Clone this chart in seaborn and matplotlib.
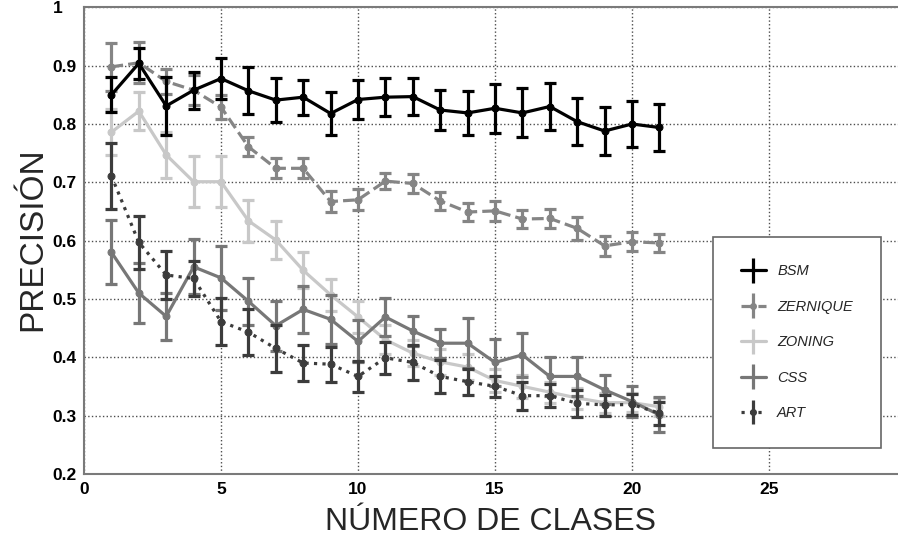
import numpy as np
import pandas as pd
import matplotlib
matplotlib.use('Agg')
import matplotlib.pyplot as plt
import seaborn as sns
from matplotlib.container import ErrorbarContainer
from matplotlib.legend_handler import HandlerErrorbar

# number of classes
clases = list(range(1, 22))

# mean precision per method
bsm = [0.850, 0.904, 0.831, 0.858, 0.878, 0.857, 0.841, 0.846, 0.818, 0.842, 0.846,
       0.847, 0.824, 0.819, 0.827, 0.819, 0.830, 0.804, 0.788, 0.800, 0.794]
zernique = [0.898, 0.905, 0.873, 0.858, 0.829, 0.761, 0.724, 0.724, 0.667, 0.670, 0.702,
            0.698, 0.668, 0.649, 0.651, 0.637, 0.638, 0.621, 0.591, 0.598, 0.596]
zoning = [0.786, 0.822, 0.747, 0.701, 0.701, 0.634, 0.601, 0.549, 0.507, 0.469, 0.430,
          0.407, 0.392, 0.383, 0.360, 0.350, 0.340, 0.330, 0.322, 0.322, 0.315]
css = [0.580, 0.510, 0.470, 0.555, 0.536, 0.496, 0.454, 0.482, 0.465, 0.427, 0.469,
       0.445, 0.424, 0.424, 0.391, 0.404, 0.367, 0.367, 0.344, 0.324, 0.301]
art = [0.711, 0.597, 0.541, 0.535, 0.461, 0.443, 0.415, 0.390, 0.388, 0.367, 0.399,
       0.391, 0.367, 0.358, 0.350, 0.334, 0.334, 0.321, 0.318, 0.319, 0.304]

# half-width of the error bars
bsm_err = [0.030, 0.027, 0.050, 0.032, 0.035, 0.040, 0.038, 0.030, 0.037, 0.033, 0.033,
           0.032, 0.034, 0.038, 0.042, 0.042, 0.040, 0.040, 0.041, 0.040, 0.041]
zernique_err = [0.041, 0.035, 0.022, 0.026, 0.020, 0.016, 0.017, 0.017, 0.018, 0.018, 0.014,
                0.016, 0.015, 0.016, 0.017, 0.016, 0.016, 0.020, 0.017, 0.016, 0.016]
zoning_err = [0.040, 0.033, 0.040, 0.044, 0.044, 0.036, 0.033, 0.031, 0.027, 0.027, 0.025,
              0.022, 0.022, 0.022, 0.020, 0.020, 0.018, 0.018, 0.017, 0.016, 0.015]
css_err = [0.055, 0.052, 0.040, 0.047, 0.055, 0.040, 0.043, 0.040, 0.042, 0.036, 0.033,
           0.026, 0.025, 0.043, 0.040, 0.038, 0.034, 0.034, 0.025, 0.026, 0.030]
art_err = [0.056, 0.046, 0.042, 0.030, 0.040, 0.040, 0.040, 0.031, 0.030, 0.027, 0.027,
           0.030, 0.029, 0.022, 0.018, 0.024, 0.020, 0.023, 0.018, 0.018, 0.020]

metodos = ['BSM', 'ZERNIQUE', 'ZONING', 'CSS', 'ART']
medias = [bsm, zernique, zoning, css, art]
errores = [bsm_err, zernique_err, zoning_err, css_err, art_err]
colores = ['#000000', '#858585', '#c8c8c8', '#777777', '#3c3c3c']
estilos = ['-', '--', '-', '-', ':']

# long table: two rows per point (mean - err, mean + err) so the
# min-max interval reproduces the published error bars
filas = []
for m, med, err in zip(metodos, medias, errores):
    for x, v, e in zip(clases, med, err):
        filas.append({'metodo': m, 'clases': x, 'precision': v - e})
        filas.append({'metodo': m, 'clases': x, 'precision': v + e})
df = pd.DataFrame(filas)

sns.set_style('white')
plt.rcParams['font.family'] = ['Liberation Sans', 'DejaVu Sans']

fig = plt.figure(figsize=(8.98, 5.37), dpi=100)
ax = fig.add_axes([84 / 898, (537 - 473.8) / 537, 822 / 898, 466.4 / 537])

orden = ['ZONING', 'CSS', 'ART', 'ZERNIQUE', 'BSM']
for m in orden:
    i = metodos.index(m)
    sns.lineplot(data=df[df['metodo'] == m], x='clases', y='precision', ax=ax,
                 color=colores[i], linestyle=estilos[i], linewidth=2.3,
                 marker='o', markersize=5, markeredgecolor=colores[i],
                 errorbar=('pi', 100), err_style='bars',
                 err_kws=dict(capsize=4.5, elinewidth=2.3, capthick=2.3),
                 legend=False)

# proxy errorbars for the legend
handles = []
for m, c, ls in zip(metodos, colores, estilos):
    h = ax.errorbar([], [], yerr=[], color=c, linestyle=ls, linewidth=2.3,
                    marker='o' if m in ('ZERNIQUE', 'ART') else None, markersize=4,
                    capsize=4.5, elinewidth=2.3, capthick=2.3, label=m)
    handles.append(h)

ax.set_xlim(0, 30)
ax.set_ylim(0.2, 1.0)
ax.set_xticks([0, 5, 10, 15, 20, 25])
ax.set_yticks([0.2, 0.3, 0.4, 0.5, 0.6, 0.7, 0.8, 0.9, 1.0])
ax.set_yticklabels(['0.2', '0.3', '0.4', '0.5', '0.6', '0.7', '0.8', '0.9', '1'])
ax.grid(True, linestyle=':', color='#4d4d4d', linewidth=1.0)
ax.tick_params(axis='both', direction='in', length=4, color='#777777',
               labelsize=12.5, labelcolor='black')
ax.tick_params(axis='y', pad=22.5)
ax.tick_params(axis='x', pad=6)
for lbl in ax.get_xticklabels() + ax.get_yticklabels():
    lbl.set_fontweight('bold')
for lbl in ax.get_yticklabels():
    lbl.set_ha('left')

for s in ax.spines.values():
    s.set_color('#7a7a7a')
    s.set_linewidth(1.5)

ax.set_xlabel('NÚMERO DE CLASES', fontsize=23)
ax.xaxis.label.set_va('baseline')
ax.xaxis.set_label_coords(0.495, -0.121)
ax.set_ylabel('PRECISIÓN', fontsize=24)
ax.yaxis.label.set_va('baseline')
ax.yaxis.set_label_coords(-0.052, 0.502)

leg = ax.legend(handles=handles, labels=metodos, loc='upper left',
                bbox_to_anchor=(713 / 898, 1 - 236.7 / 537), bbox_transform=fig.transFigure,
                prop={'style': 'italic', 'size': 10.5}, frameon=True, fancybox=False,
                framealpha=1, edgecolor='#666666', borderpad=1.9, labelspacing=1.47,
                handlelength=1.7, handletextpad=0.8, borderaxespad=0,
                handler_map={ErrorbarContainer: HandlerErrorbar(yerr_size=0.85)})
leg.get_frame().set_linewidth(1.2)

fig.savefig('out.png', dpi=100)
